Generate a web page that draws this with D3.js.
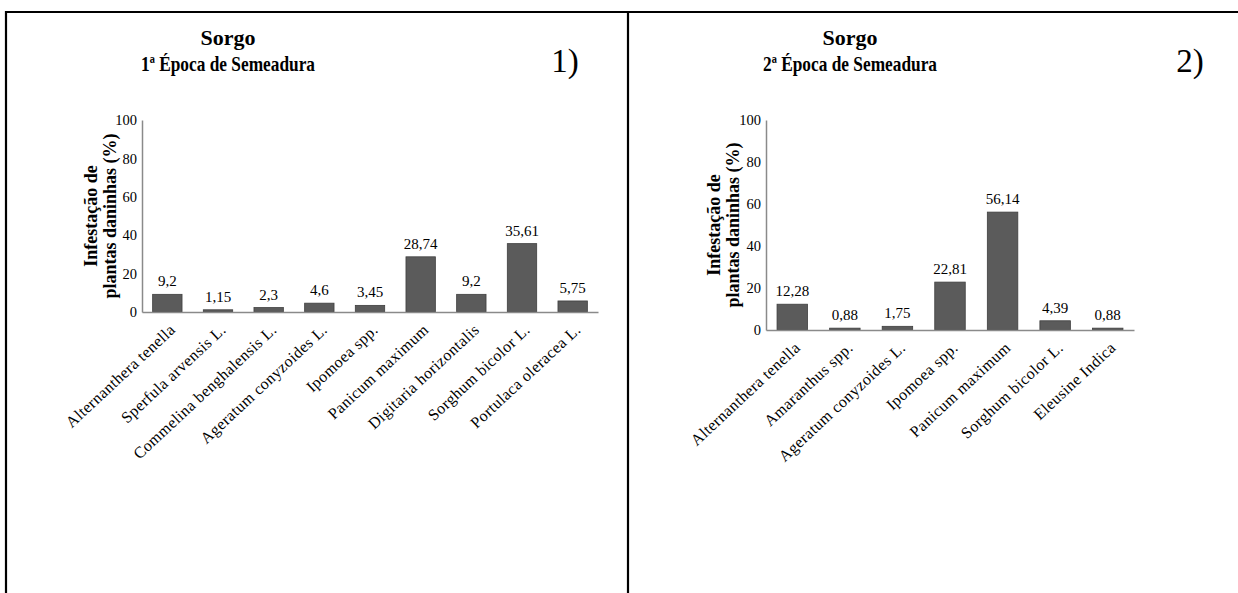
<!DOCTYPE html>
<html><head><meta charset="utf-8">
<script src="https://cdn.jsdelivr.net/npm/d3@7"></script>
<style>
body{margin:0;background:#fff;}
svg{display:block;font-family:"Liberation Serif","Times New Roman",serif;}
</style></head>
<body>
<svg id="c" width="1238" height="593"></svg>
<script>
// ---- data ----
const categories1 = ["Alternanthera tenella","Sperfula arvensis L.","Commelina benghalensis L.","Ageratum conyzoides L.","Ipomoea spp.","Panicum maximum","Digitaria  horizontalis","Sorghum bicolor L.","Portulaca oleracea L."];
const values1 = [9.2, 1.15, 2.3, 4.6, 3.45, 28.74, 9.2, 35.61, 5.75];
const labels1 = ["9,2","1,15","2,3","4,6","3,45","28,74","9,2","35,61","5,75"];
const categories2 = ["Alternanthera tenella","Amaranthus spp.","Ageratum conyzoides L.","Ipomoea spp.","Panicum maximum","Sorghum bicolor L.","Eleusine Indica"];
const values2 = [12.28, 0.88, 1.75, 22.81, 56.14, 4.39, 0.88];
const labels2 = ["12,28","0,88","1,75","22,81","56,14","4,39","0,88"];
const yTicks = [0, 20, 40, 60, 80, 100];
const titles1 = ["Sorgo", "1ª Época de Semeadura", "1)"];
const titles2 = ["Sorgo", "2ª Época de Semeadura", "2)"];
const yTitle = ["Infestação de", "plantas daninhas (%)"];

const svg = d3.select("#c");

// frame
svg.append("line").attr("x1",5).attr("x2",1238).attr("y1",12).attr("y2",12).attr("stroke","#000").attr("stroke-width",2.2);
svg.append("line").attr("x1",6).attr("x2",6).attr("y1",11).attr("y2",593).attr("stroke","#000").attr("stroke-width",2.2);
svg.append("line").attr("x1",628).attr("x2",628).attr("y1",11).attr("y2",593).attr("stroke","#000").attr("stroke-width",2.2);

function panel(cfg){
  const g = svg.append("g");
  const x = d3.scaleBand().domain(cfg.cats).range([cfg.x0, cfg.x1]).paddingInner(0.42).paddingOuter(0.21);
  const y = d3.scaleLinear().domain([0,100]).range([cfg.y0, cfg.y100]);

  // titles
  g.append("text").attr("x",cfg.tx).attr("y",45).attr("text-anchor","middle")
    .attr("font-size",22).attr("font-weight","bold").text(cfg.titles[0]);
  g.append("text").attr("x",cfg.tx).attr("y",71).attr("text-anchor","middle")
    .attr("font-size",22).attr("font-weight","bold")
    .attr("textLength",174).attr("lengthAdjust","spacingAndGlyphs")
    .text(cfg.titles[1]);
  g.append("text").attr("x",cfg.nx).attr("y",72).attr("text-anchor","middle")
    .attr("font-size",33).text(cfg.titles[2]);

  // y axis
  const ya = g.append("g").attr("transform",`translate(${cfg.x0},0)`)
    .call(d3.axisLeft(y).tickValues(yTicks).tickSize(0).tickPadding(5));
  ya.select(".domain").attr("stroke","#8a8a8a").attr("stroke-width",1.5);
  ya.selectAll("text").attr("font-family","Liberation Serif").attr("font-size",14.5).attr("fill","#000");

  // bars
  g.selectAll("rect.bar").data(cfg.vals).join("rect")
    .attr("x",(d,i)=>x(cfg.cats[i])).attr("width",x.bandwidth())
    .attr("y",d=>y(d)).attr("height",d=>y(0)-y(d))
    .attr("fill","#5b5b5b").attr("stroke","#3f3f3f").attr("stroke-width",0.8);

  // data labels
  g.selectAll("text.dl").data(cfg.vals).join("text")
    .attr("x",(d,i)=>x(cfg.cats[i])+x.bandwidth()/2).attr("y",d=>y(d)-8)
    .attr("text-anchor","middle").attr("font-size",15).text((d,i)=>cfg.labels[i]);

  // x axis
  const xa = g.append("g").attr("transform",`translate(0,${cfg.y0})`)
    .call(d3.axisBottom(x).tickSize(0).tickFormat(""));
  xa.select(".domain").attr("stroke","#8a8a8a").attr("stroke-width",1.5);
  xa.selectAll(".tick").append("text")
    .attr("transform","translate(9,19) rotate(-43)")
    .attr("text-anchor","end")
    .attr("font-family","Liberation Serif").attr("font-size",16).attr("letter-spacing",0.4).attr("fill","#000")
    .text(d=>d);

  // y title
  const yc = (cfg.y0 + cfg.y100)/2;
  const yt = g.append("text").attr("transform",`translate(${cfg.ytx},${yc}) rotate(-90)`)
    .attr("text-anchor","middle").attr("font-size",18).attr("font-weight","bold");
  yt.append("tspan").attr("x",0).attr("dy",0).text(yTitle[0]);
  yt.append("tspan").attr("x",0).attr("dy",19).text(yTitle[1]);
}

panel({cats:categories1, vals:values1, labels:labels1, titles:titles1,
  x0:142, x1:598, y0:312, y100:120, tx:228, nx:565, ytx:97});
panel({cats:categories2, vals:values2, labels:labels2, titles:titles2,
  x0:766, x1:1134, y0:330, y100:120, tx:850, nx:1190, ytx:720});
</script>
</body></html>
